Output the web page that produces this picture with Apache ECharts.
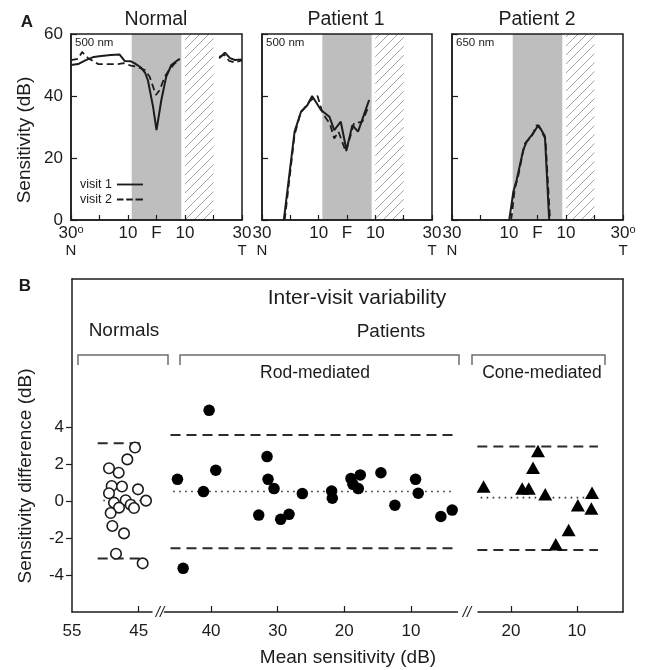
<!DOCTYPE html>
<html><head><meta charset="utf-8">
<script src="https://cdn.jsdelivr.net/npm/echarts@6/dist/echarts.min.js"></script>
<style>html,body{margin:0;padding:0;background:#fff}#c{width:652px;height:670px}</style>
</head><body><div id="c"></div>
<script>
// ---------- Panel A data (eccentricity in degrees, sensitivity in dB) ----------
const panelTitles = ['Normal', 'Patient 1', 'Patient 2'];
const wavelengths = ['500 nm', '500 nm', '650 nm'];
const leftEdgeLabels = ['30o', '30', '30'];
const rightEdgeLabels = ['30', '30', '30o'];
const fovealBand = [-8.7, 8.7];
const blindSpotBand = [10, 20];
const sensTicks = [0, 20, 40, 60];

const normalVisit1 = [[-30,50],[-27.5,50.3],[-25,51.5],[-22,52.6],[-19.4,52.9],[-16,53.2],[-13,53.4],[-12.3,54],[-11.2,51.3],[-9,51.2],[-7.6,50.5],[-5.5,49.2],[-4,47.5],[-3,45],[-1.2,36.5],[0,29],[1.7,38.7],[3.4,46.2],[5.2,50],[7.5,51.6],[8.2,52],[15,'-'],[22,52.2],[24,54],[25.8,52.2],[27.5,51.6],[30,51.8]];
const normalVisit2 = [[-30,51.6],[-27.5,52],[-26.1,54.2],[-24,52.2],[-20.5,50.3],[-16,50.3],[-13.5,50.3],[-11.5,50.6],[-9,49.8],[-7,49.5],[-4.1,48.4],[-2.4,46.2],[-0.2,40.3],[1.1,41.9],[2.9,46.2],[4.5,48.5],[6.4,50.5],[8.1,51.6],[15,'-'],[22,52.6],[23.8,53.3],[25.5,51.3],[27.5,50.8],[30,51.5]];
const patient1Visit1 = [[-22.3,0],[-18.5,28.5],[-16.2,35],[-14,37],[-12.3,40],[-9.2,35.5],[-6.2,33.3],[-4.5,29],[-2.2,31.7],[-0.2,22.6],[1.9,30.6],[3.9,28.5],[7.8,38.7]];
const patient1Visit2 = [[-22,0],[-18.5,27.5],[-16.4,34.5],[-13,38.5],[-10.4,40],[-8.6,34.4],[-6,31],[-4.5,26.3],[-3,28.5],[-0.4,22],[2.5,31.2],[5.4,31.7],[7.5,36.5]];
const patient2Visit1 = [[-9.9,0],[-8.5,9],[-7.3,13],[-5,22.6],[-3.8,25.3],[-1.5,28],[0.3,30.6],[2,28],[2.6,27],[4.1,0]];
const patient2Visit2 = [[-9.2,0],[-8,10],[-6.8,14],[-5.2,21.5],[-4.4,24.7],[-2,27],[-0.3,30.6],[1,29.5],[2.8,26],[4.4,0]];

// ---------- Panel B data: [mean sensitivity dB, sensitivity difference dB] ----------
const normalsPoints = [[45.55,2.89],[46.7,2.25],[49.45,1.77],[48.0,1.53],[49.05,0.81],[47.5,0.78],[45.1,0.63],[49.45,0.42],[43.9,0.02],[46.95,0.04],[48.7,-0.09],[46.2,-0.2],[45.7,-0.38],[47.95,-0.36],[49.2,-0.65],[48.95,-1.35],[47.2,-1.75],[48.4,-2.85],[44.4,-3.37]];
const rodPoints = [[40.3,4.9],[31.6,2.4],[39.3,1.66],[45.05,1.17],[31.45,1.17],[30.55,0.67],[41.15,0.51],[26.3,0.4],[32.85,-0.76],[28.3,-0.72],[29.55,-0.99],[44.2,-3.64],[21.9,0.54],[21.8,0.15],[19.0,1.21],[17.6,1.41],[18.7,0.9],[17.9,0.67],[14.5,1.53],[9.3,1.17],[8.9,0.42],[12.4,-0.23],[5.5,-0.84],[3.8,-0.49]];
const conePoints = [[24.15,0.78],[18.3,0.67],[17.3,0.67],[15.9,2.7],[16.65,1.8],[14.8,0.36],[7.7,0.45],[9.85,-0.23],[7.8,-0.41],[11.25,-1.57],[13.2,-2.34]];
// [upper limit, mean, lower limit]
const normalsLimits = [3.12, 0.03, -3.11];
const rodLimits = [3.57, 0.51, -2.56];
const coneLimits = [2.94, 0.18, -2.65];
// x extents of the dashed limit lines and dotted mean lines
const normalsDashX = [51.15, 44.05], normalsDotX = [50.3, 43.3];
const rodDashX = [46.1, 3.6], rodDotX = [45.7, 3.6];
const coneDashX = [25.1, 6.8], coneDotX = [24.6, 8.1];
const normalsTicks = [55, 45], rodTicks = [40, 30, 20, 10], coneTicks = [20, 10];
const diffTicks = [-4, -2, 0, 2, 4];

const FONT = "'Liberation Sans', Arial, Helvetica, sans-serif";
const INK = '#1c1c1c';

function hatchCanvas() {
  const s = 9, c = document.createElement('canvas');
  c.width = s; c.height = s;
  const g = c.getContext('2d');
  g.fillStyle = '#ffffff'; g.fillRect(0, 0, s, s);
  g.strokeStyle = '#9a9a9a'; g.lineWidth = 0.9;
  g.beginPath();
  g.moveTo(0, s); g.lineTo(s, 0);
  g.moveTo(-1, 1); g.lineTo(1, -1);
  g.moveTo(s - 1, s + 1); g.lineTo(s + 1, s - 1);
  g.stroke();
  return c;
}
const hatchPattern = { image: hatchCanvas(), repeat: 'repeat' };

const gridsA = [
  { left: 71, top: 34, width: 171, height: 186 },
  { left: 262, top: 34, width: 170, height: 186 },
  { left: 452, top: 34, width: 171, height: 186 }
];
const grids = gridsA.map(g => Object.assign({ show: true, borderColor: INK, borderWidth: 1.5, backgroundColor: 'transparent', z: 10 }, g));
// Panel B grids: normals, rod, cone, frame
grids.push({ left: 72, top: 279, width: 80, height: 333 });
grids.push({ left: 164.5, top: 279, width: 293, height: 333 });
grids.push({ left: 478, top: 279, width: 145, height: 333 });
grids.push({ left: 72, top: 279, width: 551, height: 333 });

const rich = {
  n: { fontSize: 17, fontFamily: FONT, color: INK, lineHeight: 18 },
  s: { fontSize: 11, fontFamily: FONT, color: INK, verticalAlign: 'top', lineHeight: 18, padding: [0, 0, 7, 0] },
  d: { fontSize: 15, fontFamily: FONT, color: INK, lineHeight: 18 }
};
function edgeLabel(txt, dir) {
  const main = txt.replace('o', '');
  const sup = txt.indexOf('o') >= 0 ? '{s|o}' : '';
  return '{n|' + main + '}' + sup + '\n{d|' + dir + '}';
}
const LINE = { show: true, onZero: false, lineStyle: { color: INK, width: 1.5 } };

const xAxes = [], yAxes = [];
for (let i = 0; i < 3; i++) {
  xAxes.push({
    gridIndex: i, type: 'value', min: -30, max: 30, interval: 10, z: 5,
    axisLine: LINE,
    axisTick: { show: true, inside: true, length: 5, lineStyle: { color: INK, width: 1.2 } },
    splitLine: { show: false },
    axisLabel: {
      show: true, margin: 4, showMinLabel: true, showMaxLabel: true, hideOverlap: false,
      rich: rich,
      formatter: function (v) {
        if (v === -30) return edgeLabel(leftEdgeLabels[i], 'N');
        if (v === 30) return edgeLabel(rightEdgeLabels[i], 'T');
        if (v === -10 || v === 10) return '{n|10}\n{d| }';
        if (v === 0) return '{n|F}\n{d| }';
        return '';
      }
    }
  });
  yAxes.push({
    gridIndex: i, type: 'value', min: 0, max: 60, interval: 20, z: 5,
    axisLine: LINE,
    axisTick: { show: true, inside: true, length: 6, lineStyle: { color: INK, width: 1.2 } },
    splitLine: { show: false },
    axisLabel: { show: i === 0, fontSize: 17, fontFamily: FONT, color: INK, margin: 8 }
  });
}
function bXAxis(gi, min, max, ticks) {
  return {
    gridIndex: gi, type: 'value', inverse: true, min: min, max: max,
    axisLine: LINE,
    axisTick: { show: true, inside: true, length: 6, customValues: ticks.filter(t => t !== 55), lineStyle: { color: INK, width: 1.2 } },
    splitLine: { show: false },
    axisLabel: { show: true, customValues: ticks, fontSize: 17, fontFamily: FONT, color: INK, margin: 11 }
  };
}
xAxes.push(bXAxis(3, 43, 55, normalsTicks));
xAxes.push(bXAxis(4, 3, 47, rodTicks));
xAxes.push(bXAxis(5, 3, 25, coneTicks));
xAxes.push({ gridIndex: 6, type: 'value', position: 'top', min: 0, max: 1,
  axisLine: LINE, axisTick: { show: false }, axisLabel: { show: false }, splitLine: { show: false } });
yAxes.push({
  gridIndex: 3, type: 'value', min: -6, max: 12,
  axisLine: LINE,
  axisTick: { show: true, inside: false, length: 6, customValues: diffTicks, lineStyle: { color: INK, width: 1.2 } },
  splitLine: { show: false },
  axisLabel: { show: true, customValues: diffTicks, fontSize: 17, fontFamily: FONT, color: INK, margin: 8 }
});
yAxes.push({ gridIndex: 4, type: 'value', min: -6, max: 12, show: false });
yAxes.push({ gridIndex: 5, type: 'value', min: -6, max: 12, show: false });
yAxes.push({ gridIndex: 6, type: 'value', position: 'right', min: 0, max: 1,
  axisLine: LINE, axisTick: { show: false }, axisLabel: { show: false }, splitLine: { show: false } });

const series = [];
const panelData = [[normalVisit1, normalVisit2], [patient1Visit1, patient1Visit2], [patient2Visit1, patient2Visit2]];
for (let i = 0; i < 3; i++) {
  series.push({
    name: 'visit 1', type: 'line', xAxisIndex: i, yAxisIndex: i, data: panelData[i][0],
    symbol: 'none', connectNulls: false, z: 3, silent: true,
    itemStyle: { color: INK },
    lineStyle: { color: INK, width: 2 },
    markArea: {
      silent: true, label: { show: false },
      data: [
        [{ xAxis: fovealBand[0], itemStyle: { color: '#bebebe', opacity: 1 } }, { xAxis: fovealBand[1] }],
        [{ xAxis: blindSpotBand[0], itemStyle: { color: hatchPattern, opacity: 1 } }, { xAxis: blindSpotBand[1] }]
      ]
    }
  });
  series.push({
    name: 'visit 2', type: 'line', xAxisIndex: i, yAxisIndex: i, data: panelData[i][1],
    symbol: 'none', connectNulls: false, z: 3, silent: true,
    itemStyle: { color: INK },
    lineStyle: { color: INK, width: 1.8, type: [7, 4] }
  });
}
function hLine(axis, xs, y, dotted) {
  return {
    type: 'line', xAxisIndex: axis, yAxisIndex: axis, symbol: 'none', silent: true, z: 2,
    data: [[xs[0], y], [xs[1], y]],
    lineStyle: dotted ? { color: '#333', width: 1.6, type: [1.6, 4.4] } : { color: '#2a2a2a', width: 2, type: [10, 6] }
  };
}
const groups = [
  [3, normalsLimits, normalsDashX, normalsDotX],
  [4, rodLimits, rodDashX, rodDotX],
  [5, coneLimits, coneDashX, coneDotX]
];
groups.forEach(g => {
  series.push(hLine(g[0], g[2], g[1][0], false));
  series.push(hLine(g[0], g[3], g[1][1], true));
  series.push(hLine(g[0], g[2], g[1][2], false));
});
series.push({ type: 'scatter', xAxisIndex: 3, yAxisIndex: 3, data: normalsPoints, symbol: 'circle', symbolSize: 10.5, silent: true, z: 4,
  itemStyle: { color: '#fff', borderColor: INK, borderWidth: 1.6, opacity: 1 } });
series.push({ type: 'scatter', xAxisIndex: 4, yAxisIndex: 4, data: rodPoints, symbol: 'circle', symbolSize: 11.5, silent: true, z: 4,
  itemStyle: { color: '#000', opacity: 1 } });
series.push({ type: 'scatter', xAxisIndex: 5, yAxisIndex: 5, data: conePoints, symbol: 'triangle', symbolSize: [14, 12.5], silent: true, z: 4,
  itemStyle: { color: '#000', opacity: 1 } });

function txt(text, x, y, size, opts) {
  return Object.assign({ type: 'text', x: x, y: y, silent: true, z: 20,
    style: Object.assign({ text: text, fill: INK, fontSize: size, fontFamily: FONT, textAlign: 'center', textVerticalAlign: 'middle' }, (opts && opts.style) || {}) },
    opts && opts.rotation ? { rotation: opts.rotation } : {});
}
function bracket(x1, x2) {
  return { type: 'polyline', silent: true, z: 20,
    shape: { points: [[x1, 365], [x1, 355], [x2, 355], [x2, 365]] },
    style: { stroke: '#6e6e6e', lineWidth: 1.5, fill: null } };
}
const graphics = [
  txt('A', 27, 22, 17, { style: { fontWeight: 'bold' } }),
  txt('B', 25, 286, 17, { style: { fontWeight: 'bold' } }),
  txt(panelTitles[0], 156, 20, 19.5),
  txt(panelTitles[1], 346, 20, 19.5),
  txt(panelTitles[2], 537, 20, 19.5),
  txt(wavelengths[0], 75, 43, 11.5, { style: { textAlign: 'left' } }),
  txt(wavelengths[1], 266, 43, 11.5, { style: { textAlign: 'left' } }),
  txt(wavelengths[2], 456, 43, 11.5, { style: { textAlign: 'left' } }),
  txt('Sensitivity (dB)', 25, 140, 19, { rotation: Math.PI / 2 }),
  txt('Sensitivity difference (dB)', 26, 476, 19, { rotation: Math.PI / 2 }),
  txt('Mean sensitivity (dB)', 348, 658, 19),
  txt('Inter-visit variability', 357, 298, 21),
  txt('Normals', 124, 331, 19),
  txt('Patients', 391, 332, 19),
  txt('Rod-mediated', 315, 373, 17.5),
  txt('Cone-mediated', 542, 373, 17.5),
  txt('//', 160, 613, 15, { style: { fontStyle: 'italic' } }),
  txt('//', 467, 613, 15, { style: { fontStyle: 'italic' } }),
  bracket(78, 168), bracket(180, 459), bracket(472, 605)
];

const solidIcon = 'path://M0,0H28V2H0Z';
const dashedIcon = 'path://M0,0H7V2H0Z M10,0H17V2H10Z M20,0H28V2H20Z';

const chart = echarts.init(document.getElementById('c'), null, { renderer: 'canvas' });
chart.setOption({
  animation: false,
  backgroundColor: '#ffffff',
  textStyle: { fontFamily: FONT },
  grid: grids,
  xAxis: xAxes,
  yAxis: yAxes,
  legend: {
    data: [{ name: 'visit 1', icon: solidIcon }, { name: 'visit 2', icon: dashedIcon }],
    left: 80, top: 178, orient: 'vertical', align: 'right', padding: 0,
    itemWidth: 26, itemHeight: 2, itemGap: 2, selectedMode: false, z: 20,
    itemStyle: { color: INK, borderWidth: 0 },
    lineStyle: { width: 0 },
    textStyle: { fontSize: 12.5, fontFamily: FONT, color: INK, padding: [0, 0, 0, 0] }
  },
  series: series,
  graphic: graphics
});
</script></body></html>
